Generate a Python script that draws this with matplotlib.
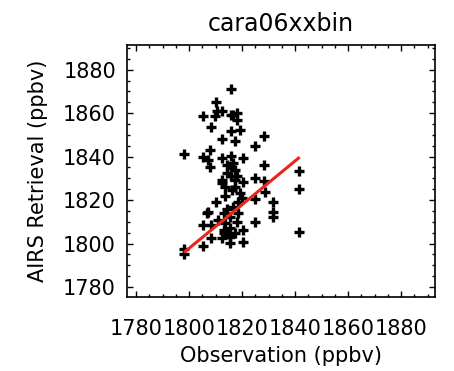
import matplotlib
matplotlib.use("Agg")
import matplotlib.pyplot as plt
from matplotlib.ticker import MultipleLocator

plt.rcParams["font.family"] = ["DejaVu Sans"]

TITLE = "cara06xxbin"
X_LABEL = "Observation (ppbv)"
Y_LABEL = "AIRS Retrieval (ppbv)"

# observation vs retrieval (ppbv)
obs = [
    1815.8, 1810.1, 1805.4, 1810.4, 1812.3, 1809.8,
    1815.8, 1818.0, 1818.0, 1816.7,
    1808.2, 1815.8, 1819.2, 1817.4, 1812.3,
    1828.3, 1824.9, 1797.9,
    1805.4, 1807.9, 1807.3, 1807.9,
    1812.3, 1815.8, 1820.5, 1816.7,
    1815.8, 1814.2, 1817.4, 1828.3, 1824.9,
    1812.3, 1812.3, 1815.8, 1817.4, 1820.5, 1817.4, 1816.1,
    1828.3, 1828.7, 1819.2, 1819.9, 1813.6,
    1841.3, 1841.3, 1824.9, 1810.1, 1831.8,
    1807.3, 1806.9, 1813.0, 1816.7, 1818.6, 1815.5,
    1831.8, 1831.8,
    1805.4, 1808.2, 1813.6, 1818.0, 1824.9,
    1813.0, 1815.5, 1813.0, 1815.5, 1817.4, 1820.5, 1841.3,
    1808.2, 1812.3, 1815.5, 1815.5, 1820.5,
    1805.4, 1797.9, 1797.9,
    1814.2, 1818.0, 1813.6, 1818.6, 1811.0, 1814.2,
]
airs = [
    1871.3, 1865.1, 1858.8, 1860.8, 1860.8, 1858.5,
    1859.3, 1860.3, 1857.0, 1859.0,
    1853.6, 1851.6, 1852.4, 1847.4, 1848.1,
    1849.6, 1844.7, 1841.3,
    1839.8, 1843.1, 1838.5, 1835.2,
    1839.3, 1840.1, 1839.3, 1837.0,
    1834.7, 1832.4, 1833.9, 1836.2, 1830.1,
    1829.3, 1827.8, 1830.9, 1829.3, 1828.1, 1826.2, 1824.7,
    1829.0, 1823.9, 1823.2, 1820.9, 1822.1,
    1833.6, 1825.0, 1820.4, 1819.2, 1819.2,
    1814.7, 1814.0, 1814.0, 1817.0, 1814.0, 1812.4,
    1814.3, 1812.4,
    1808.3, 1808.3, 1809.3, 1809.7, 1809.7,
    1806.3, 1807.0, 1804.7, 1804.0, 1804.7, 1806.0, 1805.5,
    1802.4, 1802.4, 1803.2, 1800.4, 1800.9,
    1798.9, 1797.4, 1795.2,
    1836.0, 1831.0, 1826.0, 1819.0, 1811.0, 1816.0,
]

# red fit line endpoints
fit_x = [1798.5, 1841.3]
fit_y = [1796.3, 1839.3]

fig = plt.figure(figsize=(4.54, 3.71), dpi=100)
ax = fig.add_axes([0.280, 0.1995, 0.678, 0.680])

ax.plot(obs, airs, "+", color="black", markersize=7.5, markeredgewidth=2.4)
ax.plot(fit_x, fit_y, color="#e8261c", linewidth=2.2)

ax.set_xlim(1776.6, 1892.8)
ax.set_ylim(1775.4, 1891.5)
ax.xaxis.set_major_locator(MultipleLocator(20))
ax.xaxis.set_minor_locator(MultipleLocator(5))
ax.yaxis.set_major_locator(MultipleLocator(20))
ax.yaxis.set_minor_locator(MultipleLocator(5))
ax.tick_params(which="both", direction="in", top=True, right=True, width=1.0)
ax.tick_params(which="major", length=4, labelsize=15)
ax.tick_params(which="minor", length=2.2)
ax.tick_params(axis="x", which="major", pad=16)
ax.tick_params(axis="y", which="major", pad=8)
for s in ax.spines.values():
    s.set_linewidth(1.2)

ax.set_title(TITLE, fontsize=17, pad=10)
ax.set_xlabel(X_LABEL, fontsize=15, labelpad=5)
ax.set_ylabel(Y_LABEL, fontsize=15, labelpad=11)

fig.savefig("out.png", dpi=100)
